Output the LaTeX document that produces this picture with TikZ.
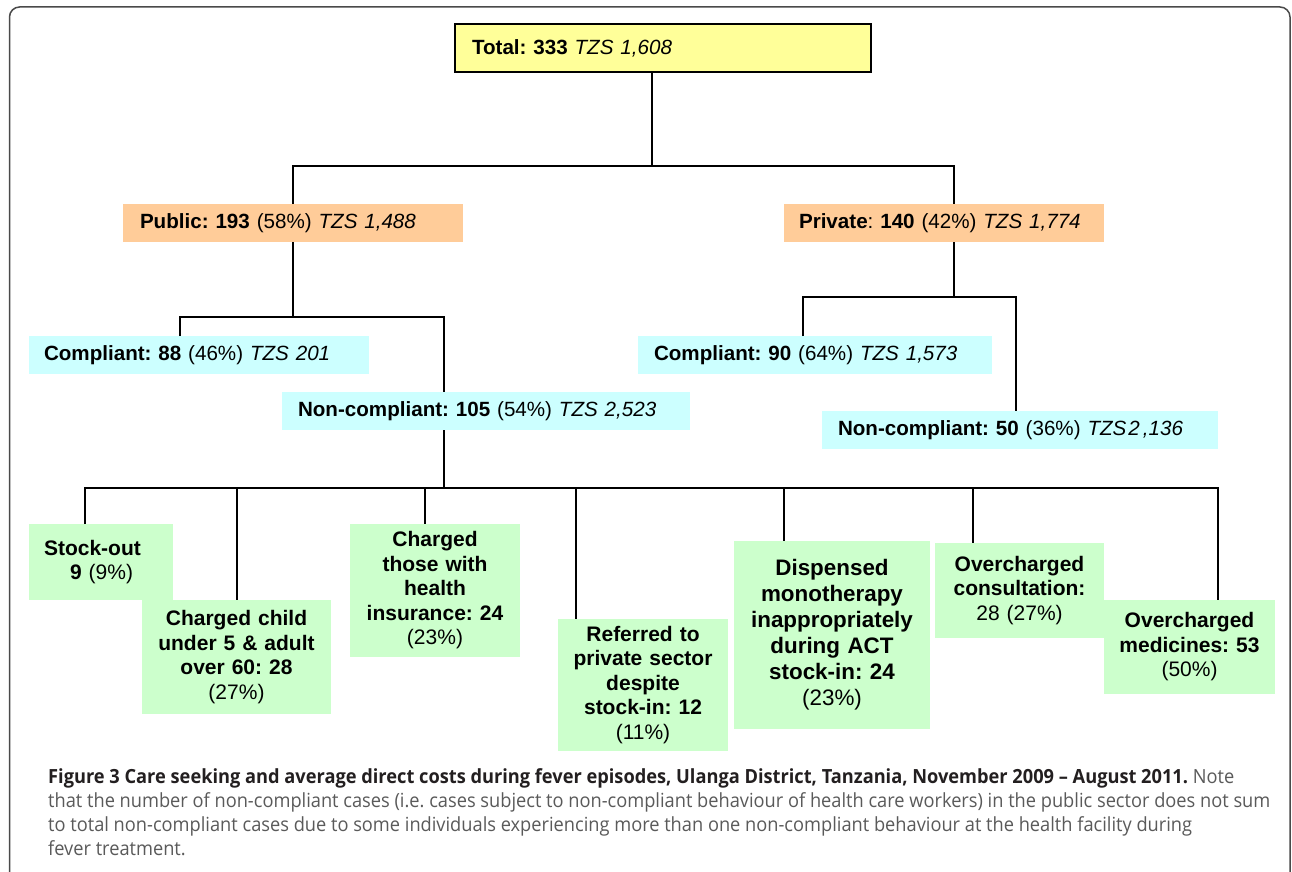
\documentclass[tikz,border=0pt]{standalone}
\usepackage{fontspec}
\setmainfont{Liberation Sans}
\newfontfamily\capfont[FakeStretch=0.935]{Open Sans}
\definecolor{tyellow}{HTML}{FFFF99}
\definecolor{torange}{HTML}{FFCC99}
\definecolor{tcyan}{HTML}{CCFFFF}
\definecolor{tgreen}{HTML}{CCFFCC}
\definecolor{capdark}{HTML}{231F20}
\definecolor{capgray}{HTML}{5A5A5A}
\definecolor{framegray}{HTML}{4A4A4A}
\tikzset{
  box/.style={anchor=north west, inner ysep=0pt, outer sep=0pt, font=\fontsize{20.6}{24.5}\selectfont},
  tbox/.style={box, align=left},
  gbox/.style={box, fill=tgreen, align=center, inner xsep=4pt, font=\fontsize{21}{24.5}\selectfont},
  conn/.style={line width=1.3pt, black},
  frame/.style={line width=1.5pt, framegray, rounded corners=10pt},
  captxt/.style={anchor=base west, inner sep=0pt, font=\capfont\fontsize{19.5}{24}\selectfont}
}
\begin{document}
\frenchspacing
\begin{tikzpicture}[x=1pt,y=-1pt]
\useasboundingbox (0,0) rectangle (1292,872);
\fill[white] (0,0) rectangle (1292,872);
\draw[frame] (9.5,880) -- (9.5,7) -- (1290,7) -- (1290,880);

% top level
\node[tbox, draw=black, line width=1.3pt, fill=tyellow, minimum width=416pt, minimum height=48pt, text width=382pt, inner xsep=17pt] (T) at (455,24) {\textbf{Total: 333} \textit{TZS 1,608}};
\node[tbox, fill=torange, minimum width=340pt, minimum height=38pt, text width=306pt, inner xsep=17pt] (Pub) at (123,204) {\textbf{Public: 193} (58\%) \textit{TZS 1,488}};
\node[tbox, fill=torange, minimum width=320pt, minimum height=38pt, text width=290pt, inner xsep=15pt] (Priv) at (784,204) {\textbf{Private}: \textbf{140} (42\%) \textit{TZS 1,774}};

\node[tbox, fill=tcyan, minimum width=340pt, minimum height=38pt, text width=310pt, inner xsep=15pt] (C88) at (29,336) {\textbf{Compliant: 88} (46\%) \textit{TZS 201}};
\node[tbox, fill=tcyan, minimum width=408pt, minimum height=38pt, text width=376pt, inner xsep=16pt] (NC105) at (282,392) {\textbf{Non-compliant: 105} (54\%) \textit{TZS 2,523}};
\node[tbox, fill=tcyan, minimum width=354pt, minimum height=38pt, text width=322pt, inner xsep=16pt] (C90) at (638,336) {\textbf{Compliant: 90} (64\%) \textit{TZS 1,573}};
\node[tbox, fill=tcyan, minimum width=396pt, minimum height=38pt, text width=364pt, inner xsep=16pt] (NC50) at (822,411) {\textbf{Non-compliant: 50} (36\%) \textit{TZS\hspace{2pt}2\hspace{3pt},136}};

% green boxes
\node[gbox, align=left, minimum width=144pt, minimum height=76pt, text width=114pt, inner xsep=15pt] (Stock) at (29,524) {\textbf{Stock-out}\\\hspace*{26pt}\textbf{9} (9\%)};
\node[gbox, minimum width=189pt, minimum height=114pt, text width=181pt] (Child) at (142,600) {\textbf{Charged child}\\\textbf{under 5 \& adult}\\\textbf{over 60: 28}\\(27\%)};
\node[gbox, minimum width=170pt, minimum height=133pt, text width=162pt] (Ins) at (350,524) {\textbf{Charged}\\\textbf{those with}\\\textbf{health}\\\textbf{insurance: 24}\\(23\%)};
\node[gbox, minimum width=170pt, minimum height=132pt, text width=162pt] (Ref) at (558,619) {\textbf{Referred to}\\\textbf{private sector}\\\textbf{despite}\\\textbf{stock-in: 12}\\(11\%)};
\node[gbox, minimum width=196pt, minimum height=188pt, text width=188pt, font=\fontsize{22.4}{26}\selectfont] (Disp) at (734,541) {\textbf{Dispensed}\\\textbf{monotherapy}\\\textbf{inappropriately}\\\textbf{during ACT}\\\textbf{stock-in: 24}\\(23\%)};
\node[gbox, minimum width=169pt, minimum height=95pt, text width=161pt] (Cons) at (935,543) {\textbf{Overcharged}\\\textbf{consultation:}\\28 (27\%)};
\node[gbox, minimum width=171pt, minimum height=94pt, text width=163pt] (Med) at (1104,600) {\textbf{Overcharged}\\\textbf{medicines: 53}\\(50\%)};

% junction coordinates
\coordinate (cT) at (652,166);
\coordinate (hL) at (293,166);
\coordinate (hR) at (954,166);
\coordinate (pm) at (293,317);
\coordinate (p1) at (180,317);
\coordinate (p2) at (444,317);
\coordinate (qm) at (954,297);
\coordinate (q1) at (803,297);
\coordinate (q2) at (1016,297);
\coordinate (b0) at (444,488);
\coordinate (b1) at (85,488);
\coordinate (b2) at (237,488);
\coordinate (b3) at (425,488);
\coordinate (b4) at (576,488);
\coordinate (b5) at (784,488);
\coordinate (b6) at (973,488);
\coordinate (b7) at (1218,488);

% connectors
\draw[conn] (T.south -| cT) -- (cT);
\draw[conn] (Pub.north -| hL) -- (hL) -- (hR) -- (Priv.north -| hR);
\draw[conn] (Pub.south -| pm) -- (pm);
\draw[conn] (C88.north -| p1) -- (p1) -- (p2) -- (NC105.north -| p2);
\draw[conn] (Priv.south -| qm) -- (qm);
\draw[conn] (C90.north -| q1) -- (q1) -- (q2) -- (NC50.north -| q2);
\draw[conn] (NC105.south -| b0) -- (b0);
\draw[conn] (Stock.north -| b1) -- (b1) -- (b7) -- (Med.north -| b7);
\draw[conn] (b2) -- (Child.north -| b2);
\draw[conn] (b3) -- (Ins.north -| b3);
\draw[conn] (b4) -- (Ref.north -| b4);
\draw[conn] (b5) -- (Disp.north -| b5);
\draw[conn] (b6) -- (Cons.north -| b6);

% caption
\node[captxt] (cap1) at (48,783) {\textcolor{capdark}{\bfseries Figure 3 Care seeking and average direct costs during fever episodes, Ulanga District, Tanzania, November 2009 – August 2011.} \textcolor{capgray}{Note}};
\node[captxt, text=capgray] (cap2) at (48,807) {that the number of non-compliant cases (i.e. cases subject to non-compliant behaviour of health care workers) in the public sector does not sum};
\node[captxt, text=capgray] (cap3) at (48,831) {to total non-compliant cases due to some individuals experiencing more than one non-compliant behaviour at the health facility during};
\node[captxt, text=capgray] (cap4) at (48,855) {fever treatment.};
\end{tikzpicture}
\end{document}
